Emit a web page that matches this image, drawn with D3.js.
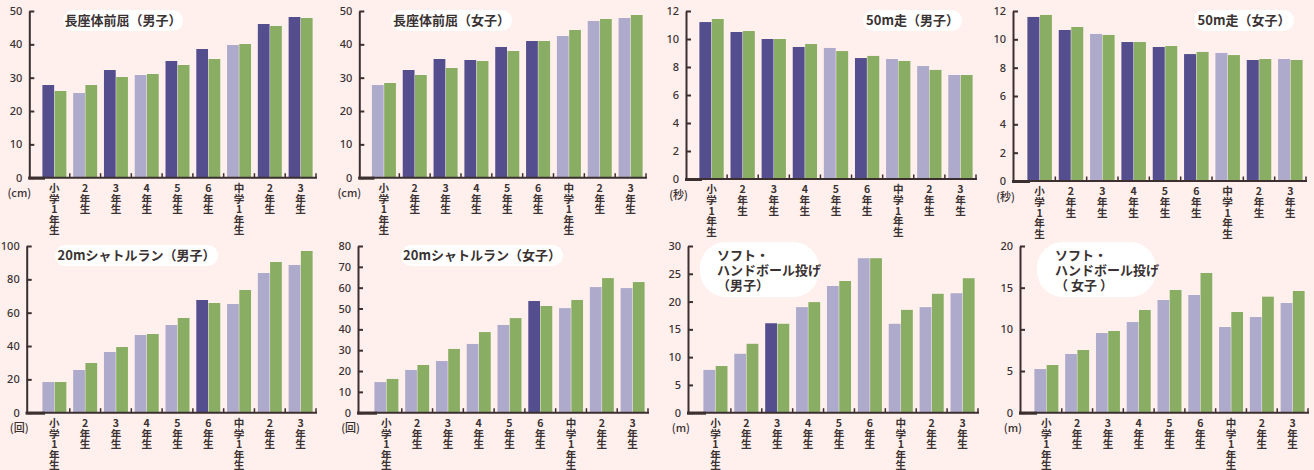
<!DOCTYPE html>
<html><head><meta charset="utf-8">
<script src="https://cdn.jsdelivr.net/npm/d3@7"></script>
<style>
html,body{margin:0;padding:0;background:#fff0ee;}
svg{display:block;}
text{font-family:"Noto Sans CJK JP","Noto Sans",sans-serif;fill:#3a3232;}
text.cat{writing-mode:vertical-rl;text-orientation:upright;}
</style></head>
<body>
<svg id="c" width="1314" height="470"></svg>
<script>
// ---- data ----
const categories = ["小学1年生","2年生","3年生","4年生","5年生","6年生","中学1年生","2年生","3年生"];

const sitReachBoysPref = [27.8,25.4,32.3,30.8,35.0,38.6,39.8,46.1,48.2];
const sitReachBoysNat  = [26.0,27.8,30.2,31.1,33.8,35.6,40.1,45.5,47.9];
const sitReachBoysBetter = [1,0,1,0,1,1,0,1,1];

const sitReachGirlsPref = [27.8,32.3,35.6,35.3,39.2,41.0,42.5,47.0,47.9];
const sitReachGirlsNat  = [28.4,30.8,32.9,35.0,38.0,41.0,44.3,47.6,48.8];
const sitReachGirlsBetter = [0,1,1,1,1,1,0,0,0];

const run50BoysPref = [11.21,10.50,10.00,9.43,9.36,8.64,8.57,8.07,7.43];
const run50BoysNat  = [11.43,10.57,10.00,9.64,9.14,8.79,8.43,7.79,7.43];
const run50BoysBetter = [1,1,1,1,0,1,0,0,0];

const run50GirlsPref = [11.58,10.66,10.38,9.81,9.46,8.96,9.04,8.54,8.61];
const run50GirlsNat  = [11.72,10.87,10.31,9.81,9.53,9.11,8.89,8.61,8.54];
const run50GirlsBetter = [1,1,0,1,1,1,0,1,0];

const shuttleBoysPref = [18.4,25.6,36.4,46.6,52.6,67.6,65.2,83.8,88.6];
const shuttleBoysNat  = [18.4,29.8,39.4,47.2,56.8,65.8,73.6,90.4,97.0];
const shuttleBoysBetter = [0,0,0,0,0,1,0,0,0];

const shuttleGirlsPref = [14.7,20.5,24.8,33.0,42.1,53.6,50.2,60.3,59.8];
const shuttleGirlsNat  = [16.2,22.9,30.6,38.7,45.4,51.2,54.1,64.6,62.7];
const shuttleGirlsBetter = [0,0,0,0,0,1,0,0,0];

const throwBoysPref = [7.7,10.6,16.1,19.0,22.8,27.8,16.0,19.0,21.5];
const throwBoysNat  = [8.4,12.4,16.0,19.9,23.7,27.8,18.5,21.4,24.2];
const throwBoysBetter = [0,0,1,0,0,0,0,0,0];

const throwGirlsPref = [5.24,7.04,9.56,10.88,13.52,14.12,10.28,11.48,13.16];
const throwGirlsNat  = [5.72,7.52,9.80,12.32,14.72,16.76,12.08,13.92,14.60];
const throwGirlsBetter = [0,0,0,0,0,0,0,0,0];

const ticksSitReach = [0,10,20,30,40,50];
const ticksRun50 = [0,2,4,6,8,10,12];
const ticksShuttleBoys = [0,20,40,60,80,100];
const ticksShuttleGirls = [0,10,20,30,40,50,60,70,80];
const ticksThrowBoys = [0,5,10,15,20,25,30];
const ticksThrowGirls = [0,5,10,15,20];

const titleSitBoys = ["長座体前屈（男子）"];
const titleSitGirls = ["長座体前屈（女子）"];
const titleRunBoys = ["50m走（男子）"];
const titleRunGirls = ["50m走（女子）"];
const titleShBoys = ["20mシャトルラン（男子）"];
const titleShGirls = ["20mシャトルラン（女子）"];
const titleThBoys = ["ソフト・","ハンドボール投げ","（男子）"];
const titleThGirls = ["ソフト・","ハンドボール投げ","（ 女子 ）"];

const units = ["(cm)","(秒)","(回)","(m)"];

// ---- layout ----
const colDark = "#544e8f", colLight = "#aeaacb", colGreen = "#89ad63";
const axisCol = "#3b2f2f";

const panels = [
  {pref:sitReachBoysPref, nat:sitReachBoysNat, better:sitReachBoysBetter, ticks:ticksSitReach, title:titleSitBoys, unit:units[0],
   ax:29.3, b0:39, b1:316, yT:11, y0:177.7, pill:[63,10,120,21], multi:false},
  {pref:sitReachGirlsPref, nat:sitReachGirlsNat, better:sitReachGirlsBetter, ticks:ticksSitReach, title:titleSitGirls, unit:units[0],
   ax:359.3, b0:368.5, b1:646, yT:11, y0:177.7, pill:[391,10,121,21], multi:false},
  {pref:run50BoysPref, nat:run50BoysNat, better:run50BoysBetter, ticks:ticksRun50, title:titleRunBoys, unit:units[1],
   ax:686, b0:696, b1:976, yT:11, y0:179, pill:[863,10,99,21], multi:false},
  {pref:run50GirlsPref, nat:run50GirlsNat, better:run50GirlsBetter, ticks:ticksRun50, title:titleRunGirls, unit:units[1],
   ax:1013, b0:1024, b1:1306, yT:11, y0:181, pill:[1194,10,100,21], multi:false},
  {pref:shuttleBoysPref, nat:shuttleBoysNat, better:shuttleBoysBetter, ticks:ticksShuttleBoys, title:titleShBoys, unit:units[2],
   ax:26.7, b0:39, b1:316, yT:246, y0:412.7, pill:[55,245,163,21], multi:false},
  {pref:shuttleGirlsPref, nat:shuttleGirlsNat, better:shuttleGirlsBetter, ticks:ticksShuttleGirls, title:titleShGirls, unit:units[2],
   ax:358, b0:371, b1:648, yT:246, y0:412.7, pill:[401,245,162,21], multi:false},
  {pref:throwBoysPref, nat:throwBoysNat, better:throwBoysBetter, ticks:ticksThrowBoys, title:titleThBoys, unit:units[3],
   ax:688, b0:700, b1:978, yT:246, y0:412.7, pill:[700,242,119,55], multi:true, tx:717},
  {pref:throwGirlsPref, nat:throwGirlsNat, better:throwGirlsBetter, ticks:ticksThrowGirls, title:titleThGirls, unit:units[3],
   ax:1020, b0:1031, b1:1308, yT:246, y0:412.7, pill:[1037,242,119,55], multi:true, tx:1055},
];

const svg = d3.select("#c");

panels.forEach(p => {
  const g = svg.append("g");
  const tmax = p.ticks[p.ticks.length-1];
  const y = d3.scaleLinear().domain([0, tmax]).range([p.y0, p.yT]);
  const x = d3.scaleBand().domain(d3.range(categories.length)).range([p.b0, p.b1]).padding(0);
  const bw = x.bandwidth();
  const x1 = d3.scaleBand().domain(["pref","nat"]).range([3.4, bw-3.4]).paddingInner(0.04);

  // bars
  const grp = g.selectAll("g.grp").data(categories.map((c,i)=>i)).join("g")
    .attr("transform", i => `translate(${x(i)},0)`);
  grp.append("rect")
    .attr("x", x1("pref")).attr("width", x1.bandwidth())
    .attr("y", i => y(p.pref[i])).attr("height", i => p.y0 - y(p.pref[i]))
    .attr("fill", i => p.better[i] ? colDark : colLight);
  grp.append("rect")
    .attr("x", x1("nat")).attr("width", x1.bandwidth())
    .attr("y", i => y(p.nat[i])).attr("height", i => p.y0 - y(p.nat[i]))
    .attr("fill", colGreen);

  // y axis
  const yAxis = d3.axisLeft(y).tickValues(p.ticks).tickSizeInner(-5).tickSizeOuter(0).tickPadding(7);
  const ya = g.append("g").attr("transform", `translate(${p.ax},0)`).call(yAxis);
  ya.select(".domain").attr("stroke", axisCol).attr("stroke-width", 2);
  ya.selectAll(".tick line").attr("stroke", axisCol).attr("stroke-width", 2);
  ya.selectAll(".tick text").attr("font-size", 11).attr("font-weight", 500)
    .style("font-family", '"Noto Sans","DejaVu Sans",sans-serif').attr("fill", "#3a3232");

  // x axis line
  g.append("line").attr("x1", p.ax-1).attr("x2", p.b1+1).attr("y1", p.y0).attr("y2", p.y0)
    .attr("stroke", axisCol).attr("stroke-width", 2);
  g.append("line").attr("x1", p.ax-1).attr("x2", p.b0+6).attr("y1", p.y0+0.5).attr("y2", p.y0+0.5)
    .attr("stroke", axisCol).attr("stroke-width", 3);
  // boundary ticks
  g.selectAll("line.bt").data(d3.range(1, categories.length+1)).join("line")
    .attr("x1", i => p.b0 + i*bw).attr("x2", i => p.b0 + i*bw)
    .attr("y1", p.y0).attr("y2", p.y0 - 4.5)
    .attr("stroke", axisCol).attr("stroke-width", 1.5);

  // category labels (vertical, one text each)
  g.selectAll("text.cat").data(categories).join("text")
    .attr("class", "cat")
    .attr("x", (c, i) => x(i) + bw/2).attr("y", p.y0 + 5)
    .attr("font-size", 10.6).attr("font-weight", 700)
    .text(c => c);

  // unit label
  g.append("text").attr("x", p.ax + 2).attr("y", p.y0 + 19.5).attr("text-anchor", "end")
    .attr("font-size", 11).attr("font-weight", 500).text(p.unit);

  // title pill
  const [px, py, pw, ph] = p.pill;
  g.append("rect").attr("x", px).attr("y", py).attr("width", pw).attr("height", ph)
    .attr("rx", p.multi ? 26 : ph/2).attr("fill", "#ffffff");
  if (!p.multi) {
    g.append("text").attr("x", px + pw/2).attr("y", py + ph/2 + 4.6).attr("text-anchor", "middle")
      .attr("font-size", 13).attr("font-weight", 700).text(p.title[0]);
  } else {
    const t = g.append("text").attr("x", p.tx).attr("y", py + 18).attr("font-size", 13).attr("font-weight", 700);
    p.title.forEach((ln, k) => {
      t.append("tspan").attr("x", p.tx).attr("dy", k === 0 ? 0 : 15).text(ln);
    });
  }
});
</script>
</body></html>
